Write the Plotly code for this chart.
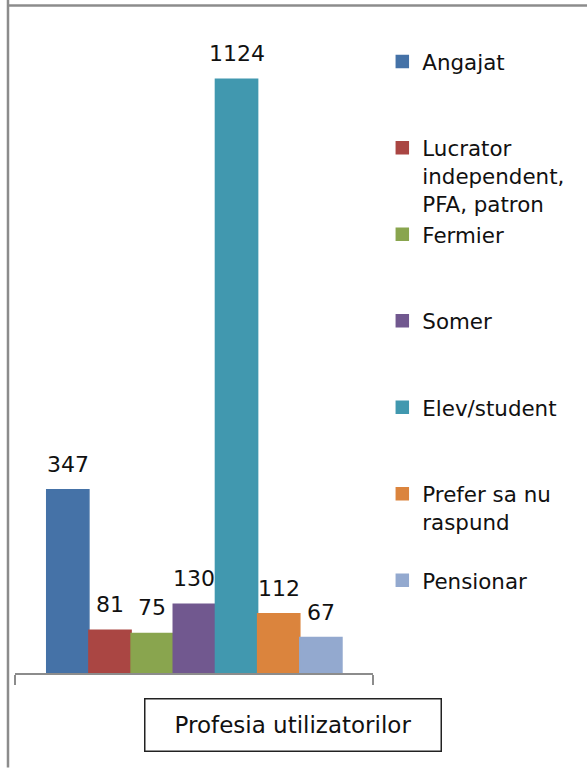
import plotly.graph_objects as go

# ---- data ----
series_names = ["Angajat", "Lucrator independent, PFA, patron", "Fermier", "Somer",
                "Elev/student", "Prefer sa nu raspund", "Pensionar"]
legend_labels = ["Angajat", "Lucrator<br>independent,<br>PFA, patron", "Fermier", "Somer",
                 "Elev/student", "Prefer sa nu<br>raspund", "Pensionar"]
values = [347, 81, 75, 130, 1124, 112, 67]
colors = ["#4572A7", "#AA4643", "#89A54E", "#71588F", "#4198AF", "#DB843D", "#93A9CF"]
axis_title = "Profesia utilizatorilor"

# ---- layout constants (pixels) ----
W, H = 587, 768
PL, PR = 15, 372.7
PT, PB = 39, 673.5
YMAX = 1200
BAR_L, BAR_R = 46.7, 341.7
bar_px = (BAR_R - BAR_L) / len(values)
X0 = -0.5 - (BAR_L - PL) / bar_px
X1 = len(values) - 0.5 + (PR - BAR_R) / bar_px

FONT = "DejaVu Sans"


def px(x):
    return (x - PL) / (PR - PL)


def py(y):
    return (PB - y) / (PB - PT)


def pad_lines(label, n=3):
    k = label.count("<br>") + 1
    return label + "<br>\u00a0" * (n - k)


fig = go.Figure()
for i, (name, lab, v, c) in enumerate(zip(series_names, legend_labels, values, colors)):
    fig.add_trace(go.Bar(
        x=[i], y=[v], width=1, name=pad_lines(lab),
        marker=dict(color=c, line=dict(width=1.5, color=c)),
        hovertext=name, hoverinfo="text+y",
    ))

annotations = []
for i, v in enumerate(values):
    annotations.append(dict(
        x=i, y=v, xref="x", yref="y", text=str(v), showarrow=False,
        yanchor="bottom", xanchor="center", yshift=11,
        font=dict(family=FONT, size=22, color="#111111"),
    ))

annotations.append(dict(
    x=px(293), y=py(725.5), xref="paper", yref="paper", text=axis_title,
    showarrow=False, xanchor="center", yanchor="middle",
    width=295, height=51, borderpad=0, borderwidth=1.5, bordercolor="#222222",
    bgcolor="white", font=dict(family=FONT, size=23, color="#111111"),
))

shapes = [
    dict(type="line", xref="paper", yref="paper", x0=px(8), x1=px(8), y0=py(0), y1=py(H),
         line=dict(color="#8c8c8c", width=2.5)),
    dict(type="line", xref="paper", yref="paper", x0=px(8), x1=px(W + 5), y0=py(5.5), y1=py(5.5),
         line=dict(color="#8c8c8c", width=2.5)),
]

fig.update_layout(
    width=W, height=H, autosize=False,
    margin=dict(l=PL, r=W - PR, t=PT, b=H - PB, pad=0),
    paper_bgcolor="white", plot_bgcolor="white",
    barmode="overlay",
    showlegend=True,
    legend=dict(
        x=px(382), y=py(41), xanchor="left", yanchor="top",
        font=dict(family=FONT, size=21.4, color="#111111"),
        valign="top", tracegroupgap=0, traceorder="normal",
        bgcolor="rgba(0,0,0,0)", borderwidth=0,
    ),
    xaxis=dict(
        range=[X0, X1], showgrid=False, zeroline=False,
        showline=True, linecolor="#8c8c8c", linewidth=1.5,
        ticks="outside", ticklen=10, tickwidth=1.5, tickcolor="#8c8c8c",
        tickmode="array", tickvals=[X0, X1], showticklabels=False, fixedrange=True,
    ),
    yaxis=dict(range=[0, YMAX], visible=False, showgrid=False, zeroline=False, fixedrange=True),
    annotations=annotations,
    shapes=shapes,
    font=dict(family=FONT),
)

fig.write_html(
    "out.html",
    config={"displayModeBar": False},
    post_script="document.body.style.margin='0';document.body.style.overflow='hidden';",
)
